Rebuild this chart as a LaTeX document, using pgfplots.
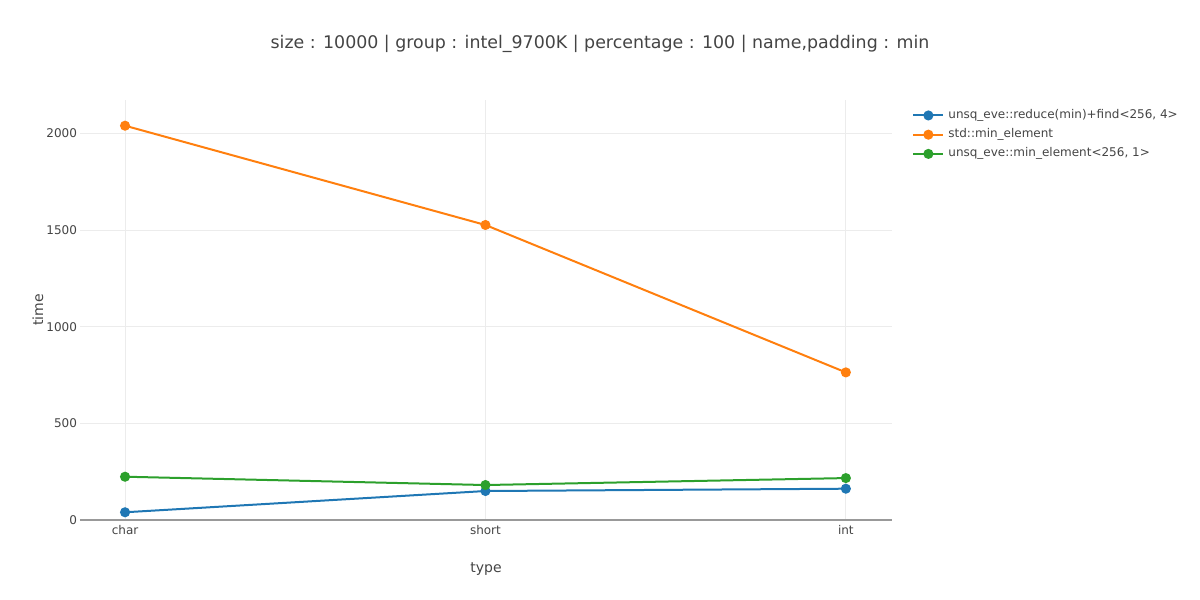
\documentclass[border=0pt]{standalone}
\usepackage{pgfplots}
\pgfplotsset{compat=1.18}
\usepackage{fontspec}
\setmainfont{DejaVu Sans}
\definecolor{pblue}{HTML}{1F77B4}
\definecolor{porange}{HTML}{FF7F0E}
\definecolor{pgreen}{HTML}{2CA02C}
\definecolor{ptext}{HTML}{444444}
\begin{document}
\begin{tikzpicture}
\begin{axis}[
    scale only axis,
    width=406pt, height=210pt,
    xmin=-0.125, xmax=2.128,
    ymin=0, ymax=2174,
    xtick={0,1,2},
    xticklabels={char,short,int},
    ytick={0,500,1000,1500,2000},
    axis x line*=bottom,
    axis y line*=left,
    x axis line style={draw=gray!80, line width=0.6pt, -},
    y axis line style={draw=none},
    major tick length=0pt,
    grid=major,
    major grid style={draw=gray!15, line width=0.4pt},
    ticklabel style={font=\fontsize{6}{7}\selectfont, text=ptext},
    /pgf/number format/assume math mode=true,
    /pgf/number format/set thousands separator={},
    yticklabel style={anchor=east, xshift=2pt},
    xticklabel style={yshift=1pt},
    every axis plot/.append style={line width=1pt, mark=*, mark size=2pt},
    legend image code/.code={\draw[mark repeat=2,mark phase=2,#1] plot coordinates {(0pt,0pt) (7.5pt,0pt) (15pt,0pt)};},
    legend style={at={(1,1)}, anchor=north west, xshift=9pt, yshift=-1.5pt,
        draw=none, fill=none, font=\fontsize{6}{7}\selectfont, text=ptext,
        row sep=-0.45pt, inner sep=1pt},
    legend cell align=left,
    clip=false,
]
\addplot[color=pblue] coordinates {(0,40) (1,150) (2,162)};
\addplot[color=porange] coordinates {(0,2041) (1,1527) (2,764)};
\addplot[color=pgreen] coordinates {(0,224) (1,181) (2,217)};
\legend{unsq\_eve::reduce(min)+find<256{,} 4>, std::min\_element, unsq\_eve::min\_element<256{,} 1>}
\end{axis}
\path (-40pt,-40pt) rectangle (560pt,260pt);
\node[text=ptext, font=\fontsize{8.7}{10}\selectfont] at (260pt,238pt) {size : 10000 | group : intel\_9700K | percentage : 100 | name,padding : min};
\node[text=ptext, font=\fontsize{7}{8}\selectfont] at (203pt,-24.5pt) {type};
\node[text=ptext, font=\fontsize{7}{8}\selectfont, rotate=90] at (-21pt,105pt) {time};
\end{tikzpicture}
\end{document}
